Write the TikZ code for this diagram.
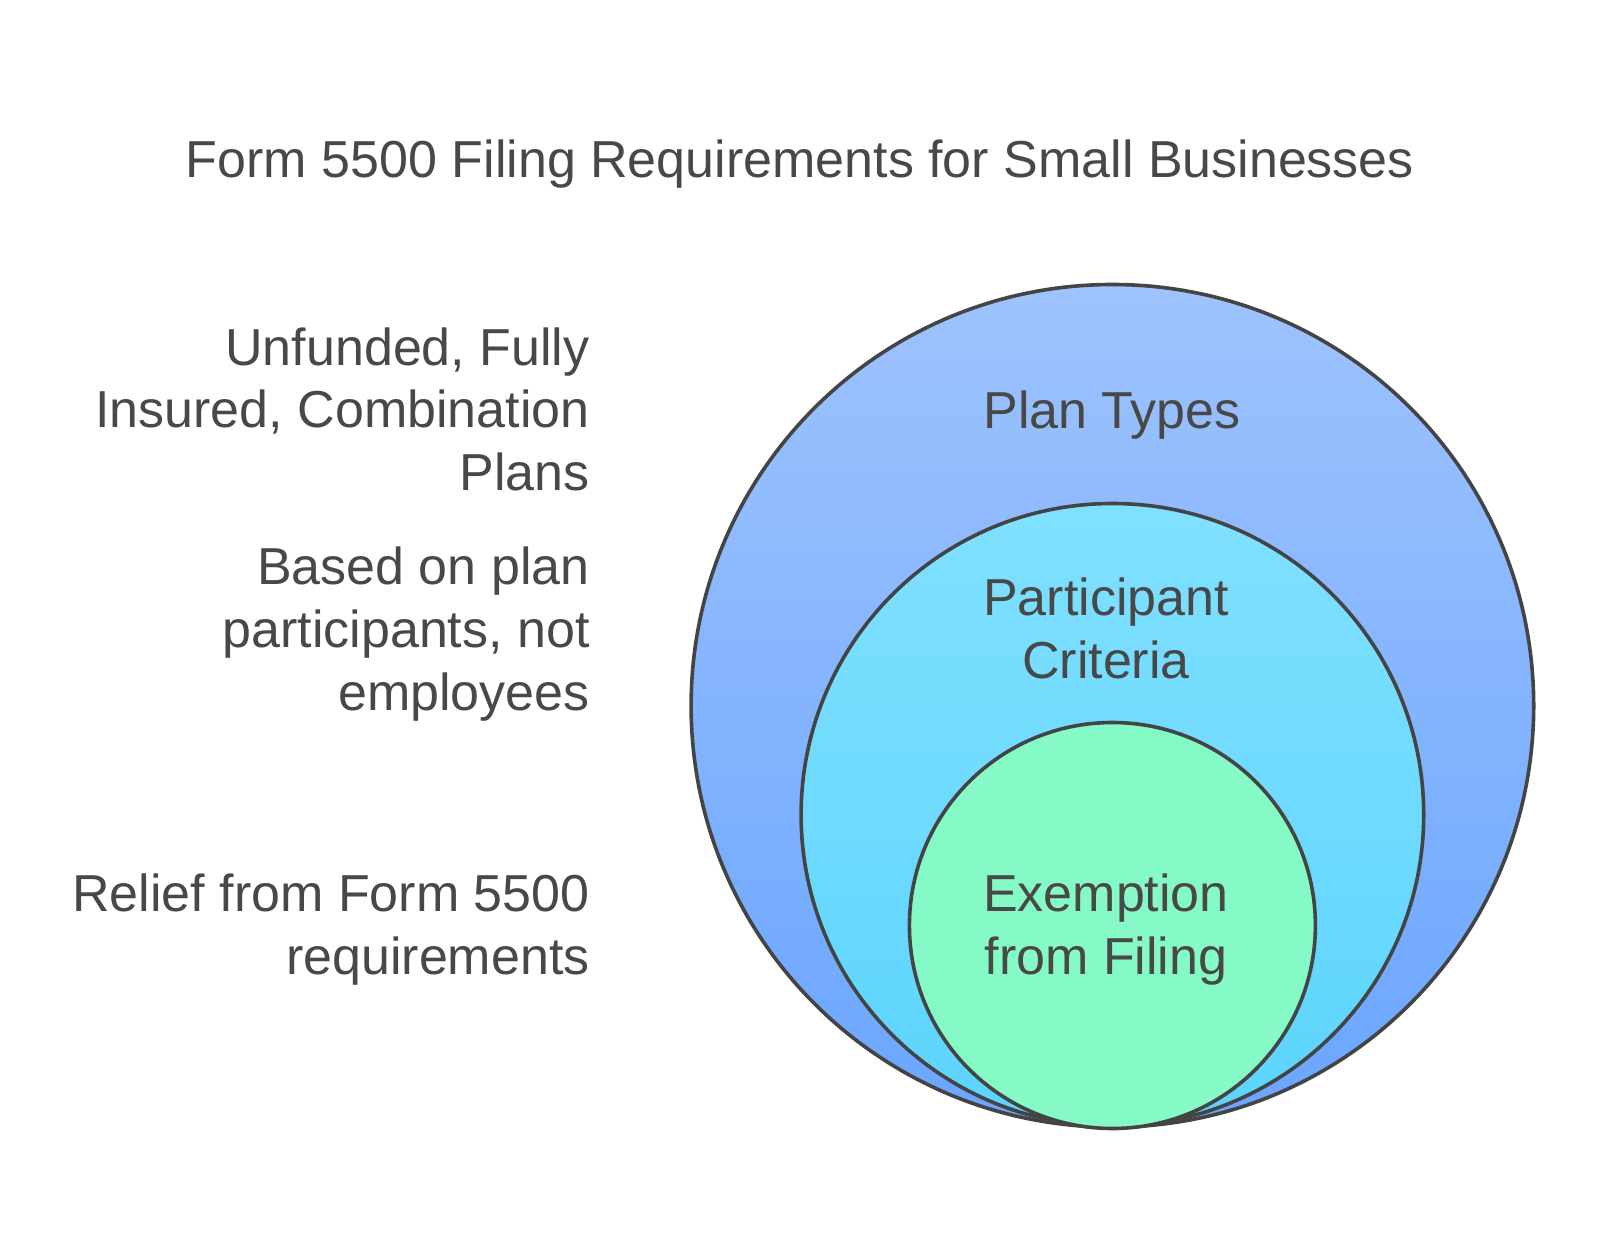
\documentclass[tikz,border=0pt]{standalone}
\usepackage{fontspec}
\setmainfont{Liberation Sans}
\definecolor{txt}{RGB}{72,72,72}
\definecolor{edge}{RGB}{68,68,68}
\definecolor{bluetop}{RGB}{158,195,253}
\definecolor{bluebot}{RGB}{106,165,255}
\definecolor{cyantop}{RGB}{128,224,255}
\definecolor{cyanbot}{RGB}{92,212,253}
\definecolor{mint}{RGB}{133,250,198}
\tikzset{
  ring/.style={circle, draw=edge, line width=1.8pt, inner sep=0pt},
  lbl/.style={text=txt, font=\fontsize{26}{31.4}\selectfont, inner sep=0pt},
}
\begin{document}
\begin{tikzpicture}[x=0.5pt,y=-0.5pt]
\useasboundingbox[fill=white] (0,0) rectangle (1600,1256);
% circles
\node[ring, minimum size=421.3pt, top color=bluetop, bottom color=bluebot] (outer) at (1112.4,705.8) {};
\node[ring, minimum size=311.3pt, top color=cyantop, bottom color=cyanbot] (middle) at (1112.4,814.8) {};
\node[ring, minimum size=203pt, fill=mint] (inner) at (1112.4,925.5) {};
% title
\node[lbl, anchor=base] (title) at (800,177.6) {Form 5500 Filing Requirements for Small Businesses};
% circle labels (base anchor = last line)
\node[lbl, anchor=base, align=center] (tPlan) at (1112,428.6) {Plan Types};
\node[lbl, anchor=base, align=center] (tPart) at (1106,678.6) {Participant\\Criteria};
\node[lbl, anchor=base, align=center] (tExem) at (1106,974.5) {Exemption\\from Filing};
% left descriptions
\node[lbl, anchor=base east, align=right] (dPlan) at (590,490.8) {Unfunded, Fully\\Insured, Combination\\Plans};
\node[lbl, anchor=base east, align=right] (dPart) at (590,710) {Based on plan\\participants, not\\employees};
\node[lbl, anchor=base east, align=right] (dExem) at (590,974.5) {Relief from Form 5500\\requirements};
\end{tikzpicture}
\end{document}
